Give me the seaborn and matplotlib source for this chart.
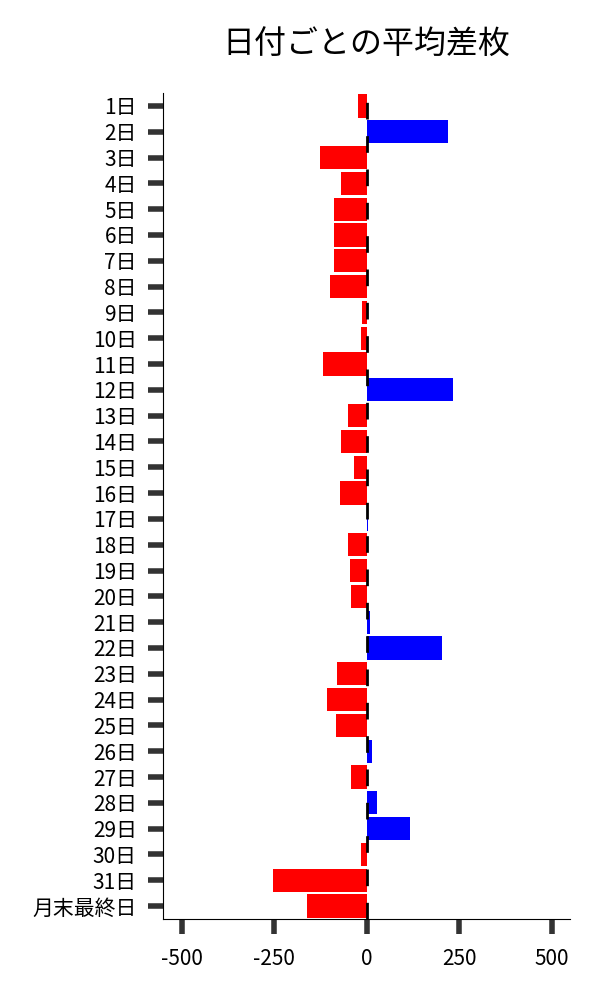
import seaborn as sns
import matplotlib
matplotlib.use('Agg')
import matplotlib.pyplot as plt
import pandas as pd

plt.rcParams['font.family'] = ['Noto Sans CJK JP', 'DejaVu Sans']
plt.rcParams['axes.unicode_minus'] = False

days = [str(i) + '日' for i in range(1, 32)] + ['月末最終日']
diffs = [-24, 219, -125, -68, -87, -89, -89, -98, -13, -16,
         -119, 233, -51, -70, -33, -73, 4, -51, -46, -43,
         10, 205, -81, -106, -84, 15, -43, 29, 118, -16,
         -252, -160]
x_ticks = [-500, -250, 0, 250, 500]

df = pd.DataFrame({'day': days, 'diff': diffs})
df['sign'] = ['pos' if v > 0 else 'neg' for v in df['diff']]

fig = plt.figure(figsize=(6, 10), dpi=100)
ax = fig.add_axes([0.272, 0.081, 0.678, 0.826])

sns.barplot(data=df, x='diff', y='day', hue='sign', order=days,
            palette={'pos': '#0000ff', 'neg': '#ff0000'},
            dodge=False, legend=False, width=0.9, saturation=1,
            orient='h', ax=ax)
ax.axvline(0, color='black', lw=2, dashes=(6, 6), zorder=5)

ax.set_xlim(-550, 550)
ax.set_xticks(x_ticks)
ax.set_xticklabels([str(v) for v in x_ticks])
ax.set_xlabel('')
ax.set_ylabel('')
ax.tick_params(axis='both', length=11, width=4, color='#333333',
               labelsize=15)
ax.tick_params(axis='y', pad=8)
ax.tick_params(axis='x', pad=10)
sns.despine(ax=ax)
ax.set_title('日付ごとの平均差枚', fontsize=23, pad=28)

fig.savefig('out.png', dpi=100)
